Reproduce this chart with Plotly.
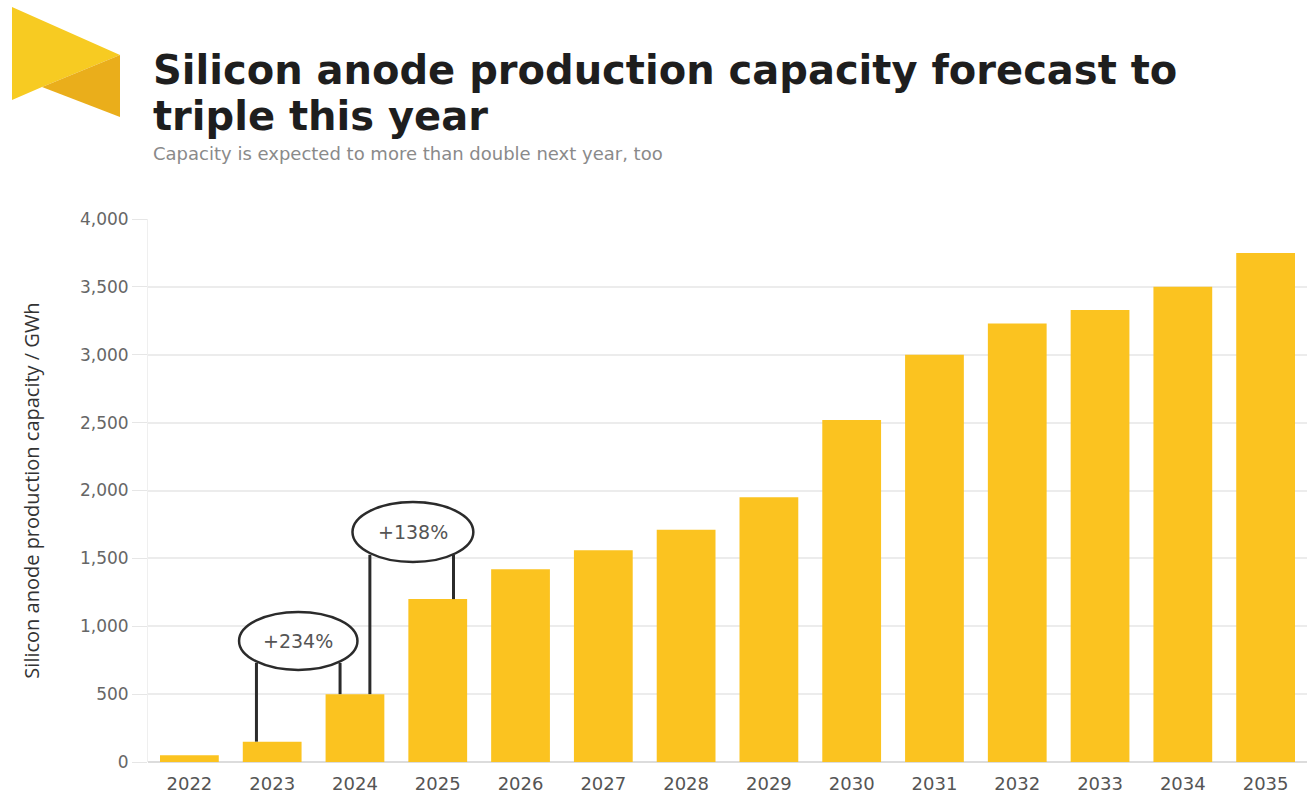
import plotly.graph_objects as go

years = [2022, 2023, 2024, 2025, 2026, 2027, 2028, 2029, 2030, 2031, 2032, 2033, 2034, 2035]
capacity_gwh = [50, 150, 500, 1200, 1420, 1560, 1710, 1950, 2520, 3000, 3230, 3330, 3500, 3750]
y_ticks = [0, 500, 1000, 1500, 2000, 2500, 3000, 3500, 4000]
growth_labels = ["+234%", "+138%"]
growth_pairs = [(2023, 2024), (2024, 2025)]

W, H = 1307, 799
L, R, T, B = 148, 0, 219, 37
PW, PH = W - L - R, H - T - B

def px(x):
    return (x - L) / PW

def py(y):
    return (H - B - y) / PH

FONT = "DejaVu Sans"
BAR = "#FBC320"

fig = go.Figure()
fig.add_trace(go.Bar(x=years, y=capacity_gwh, marker=dict(color=BAR, line=dict(width=0)),
                     width=0.71, hoverinfo="x+y"))

# connectors and ellipses for growth annotations
ell_specs = [
    dict(x0=2022.60, x1=2024.03, y0=678, y1=1105),
    dict(x0=2023.97, x1=2025.43, y0=1473, y1=1915),
]
offsets = [(-0.19, -0.18), (0.18, 0.19)]
shapes = []
annotations = []
for (a, b), (oa, ob), ell, lab in zip(growth_pairs, offsets, ell_specs, growth_labels):
    va = capacity_gwh[years.index(a)]
    vb = capacity_gwh[years.index(b)]
    ytop = ell["y0"] + 0.12 * (ell["y1"] - ell["y0"])
    for xx, vv in ((a + oa, va), (b + ob, vb)):
        shapes.append(dict(type="line", xref="x", yref="y", x0=xx, x1=xx, y0=vv, y1=ytop,
                           line=dict(color="#2b2b2b", width=3), layer="above"))
    shapes.append(dict(type="circle", xref="x", yref="y", fillcolor="white",
                       line=dict(color="#2b2b2b", width=2.5), layer="above", **ell))
    annotations.append(dict(x=(ell["x0"] + ell["x1"]) / 2, y=(ell["y0"] + ell["y1"]) / 2,
                            xref="x", yref="y", text=lab, showarrow=False,
                            font=dict(family=FONT, size=19, color="#555555")))

# logo
shapes.append(dict(type="path", xref="paper", yref="paper",
                   path=f"M {px(12)},{py(7)} L {px(120)},{py(55)} L {px(42)},{py(87)} L {px(12)},{py(100)} Z",
                   fillcolor="#F7CB22", line=dict(width=0)))
shapes.append(dict(type="path", xref="paper", yref="paper",
                   path=f"M {px(42)},{py(87)} L {px(120)},{py(55)} L {px(120)},{py(117)} Z",
                   fillcolor="#EAAE1B", line=dict(width=0)))

# titles
annotations += [
    dict(x=px(151), y=py(70), xref="paper", yref="paper", xanchor="left", yanchor="middle",
         text="<b>Silicon anode production capacity forecast to</b>", showarrow=False,
         font=dict(family=FONT, size=40, color="#1e1e1e")),
    dict(x=px(151), y=py(116), xref="paper", yref="paper", xanchor="left", yanchor="middle",
         text="<b>triple this year</b>", showarrow=False,
         font=dict(family=FONT, size=40, color="#1e1e1e")),
    dict(x=px(151), y=py(153), xref="paper", yref="paper", xanchor="left", yanchor="middle",
         text="Capacity is expected to more than double next year, too", showarrow=False,
         font=dict(family=FONT, size=18, color="#8a8a8a")),
]

fig.update_layout(
    width=W, height=H,
    margin=dict(l=L, r=R, t=T, b=B, pad=0),
    paper_bgcolor="white", plot_bgcolor="white",
    showlegend=False,
    bargap=0.29,
    shapes=shapes,
    annotations=annotations,
    font=dict(family=FONT),
)
fig.update_xaxes(
    tickmode="array", tickvals=years, ticktext=[str(y) for y in years],
    range=[2021.5, 2035.5], showgrid=False, zeroline=False,
    showline=False, ticks="", ticklabelstandoff=9,
    tickfont=dict(family=FONT, size=18, color="#555555"),
)
fig.update_yaxes(
    range=[0, 4000], tickvals=y_ticks, tickformat=",",
    showgrid=True, gridcolor="#ececec", gridwidth=1.5,
    zeroline=True, zerolinecolor="#dcdcdc", zerolinewidth=1.5,
    showline=True, linecolor="#efefef", linewidth=1,
    ticks="outside", ticklen=15, tickcolor="#e6e6e6", tickwidth=1,
    tickfont=dict(family=FONT, size=17, color="#666666"),
    title=dict(text="Silicon anode production capacity / GWh",
               font=dict(family="Open Sans", size=20, color="#333333", weight=500), standoff=34),
)

fig.write_html("out.html")
